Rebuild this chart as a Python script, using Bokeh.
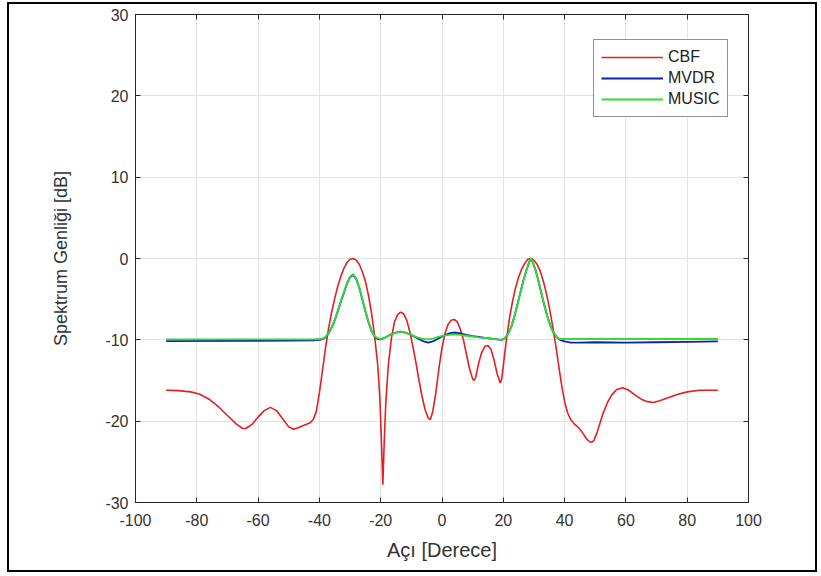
from bokeh.plotting import figure
from bokeh.models import LinearAxis, FixedTicker, Range1d, Legend, LegendItem
from bokeh.embed import file_html
from bokeh.resources import INLINE

# ---- data ----
cbf_x = [-90, -86, -82, -79, -76, -73, -70, -67, -65, -64, -62, -60, -58, -56, -54, -52, -50, -48.5,
         -47, -45, -43, -42, -41, -40, -39, -38, -37, -36, -35, -34, -33, -32, -31, -30, -29, -28,
         -27, -26, -25, -24, -23, -22, -21, -20.3, -19.8, -19.3, -18.8, -18.3, -17.5, -16.5, -15.5,
         -14.5, -13.5, -12.5, -11.5, -10.5, -9.5, -8.5, -7.5, -6.5, -5.5, -4.5, -3.8, -3, -2, -1,
         0, 1, 2, 3, 4, 5, 6, 7, 8, 9, 10, 10.5, 11, 12, 13, 14, 15, 16, 17, 18, 19, 19.5, 20, 21,
         22, 23, 24, 25, 26, 27, 28, 29, 30, 31, 32, 33, 34, 35, 36, 37, 38, 39, 40, 41, 42, 43,
         44, 45, 46, 47, 48, 48.8, 49.5, 50.5, 51.5, 52.5, 54, 55.5, 57, 59, 61, 63, 65, 67, 69,
         71, 74, 77, 80, 84, 90]
cbf_y = [-16.2, -16.25, -16.4, -16.7, -17.3, -18.2, -19.3, -20.4, -20.9, -20.9, -20.4, -19.5, -18.7,
         -18.3, -18.7, -19.7, -20.7, -21.0, -20.8, -20.5, -20.2, -19.8, -18.8, -16.5, -13.8, -11.0,
         -8.6, -6.6, -4.9, -3.4, -2.2, -1.2, -0.5, -0.1, 0.0, -0.2, -0.7, -1.6, -2.8, -4.5, -6.7,
         -9.5, -13.0, -17.0, -22.0, -27.8, -22.0, -17.5, -13.0, -9.8, -7.8, -6.9, -6.6, -6.8, -7.6,
         -9.0, -10.8, -12.8, -15.0, -17.0, -18.6, -19.6, -19.8, -18.8, -16.5, -13.5, -11.0, -9.2,
         -8.1, -7.6, -7.5, -7.8, -8.7, -10.0, -11.8, -13.6, -14.8, -15.0, -14.6, -12.8, -11.5,
         -10.8, -10.7, -11.2, -12.5, -14.2, -15.3, -14.8, -13.2, -10.0, -7.4, -5.3, -3.6, -2.3,
         -1.3, -0.6, -0.1, 0.0, -0.2, -0.7, -1.5, -2.7, -4.2, -6.0, -8.1, -10.4, -13.0, -15.5,
         -17.6, -19.0, -19.8, -20.3, -20.6, -21.0, -21.5, -22.1, -22.5, -22.6, -22.4, -21.5, -20.3,
         -19.1, -17.7, -16.7, -16.1, -15.9, -16.2, -16.8, -17.3, -17.6, -17.7, -17.5, -17.1, -16.7,
         -16.4, -16.2, -16.2]

mvdr_x = [-90, -70, -50, -42, -40, -39, -38, -37, -36, -35, -34, -33, -32, -31, -30, -29, -28, -27,
          -26, -25, -24, -23, -22, -21, -20, -19, -17, -15, -13.5, -12, -10, -8, -6, -4.5, -3, -1,
          1, 3, 4.5, 6, 8, 10, 12, 14, 16, 18, 19.5, 20.5, 21.5, 22.5, 23.5, 24.5, 25.5, 26.5,
          27.5, 28.5, 29, 29.5, 30.5, 31.5, 32.5, 33.5, 34.5, 35.5, 36.5, 37.5, 38.5, 40, 42, 45,
          50, 60, 70, 80, 90]
mvdr_y = [-10.15, -10.12, -10.1, -10.05, -10.0, -9.9, -9.7, -9.2, -8.5, -7.6, -6.5, -5.3, -4.2,
          -3.1, -2.3, -2.0, -2.5, -3.6, -5.0, -6.5, -7.8, -8.9, -9.6, -9.9, -9.95, -9.8, -9.4,
          -9.1, -9.0, -9.1, -9.4, -9.8, -10.2, -10.35, -10.2, -9.8, -9.4, -9.15, -9.1, -9.2, -9.4,
          -9.55, -9.65, -9.75, -9.85, -9.95, -10.0, -9.8, -9.3, -8.5, -7.3, -5.8, -4.3, -2.8, -1.5,
          -0.4, 0.0, -0.3, -1.4, -2.8, -4.4, -5.9, -7.3, -8.4, -9.2, -9.7, -10.0, -10.2, -10.35,
          -10.35, -10.3, -10.35, -10.3, -10.25, -10.2]

music_x = mvdr_x
music_y = [-9.95, -9.95, -9.95, -9.95, -9.9, -9.85, -9.65, -9.15, -8.45, -7.55, -6.45, -5.25, -4.15,
           -3.05, -2.25, -1.9, -2.45, -3.55, -4.95, -6.45, -7.75, -8.85, -9.55, -9.8, -9.9, -9.8,
           -9.4, -9.1, -9.0, -9.1, -9.4, -9.7, -9.9, -9.95, -9.85, -9.6, -9.45, -9.35, -9.35, -9.4,
           -9.5, -9.6, -9.7, -9.75, -9.85, -9.95, -10.0, -9.8, -9.3, -8.5, -7.3, -5.8, -4.3, -2.8,
           -1.5, -0.4, 0.0, -0.3, -1.4, -2.8, -4.4, -5.9, -7.3, -8.4, -9.2, -9.7, -9.9, -9.9, -9.9,
           -9.9, -9.9, -9.9, -9.9, -9.9, -9.9]

names = ["CBF", "MVDR", "MUSIC"]
colors = ["#e31f22", "#0f1fb0", "#30dd30"]

x_ticks = [-100, -80, -60, -40, -20, 0, 20, 40, 60, 80, 100]
x_tick_labels = ["-100", "-80", "-60", "-40", "-20", "0", "20", "40", "60", "80", "100"]
y_ticks = [-30, -20, -10, 0, 10, 20, 30]
y_tick_labels = ["-30", "-20", "-10", "0", "10", "20", "30"]

x_label = "Açı [Derece]"
y_label = "Spektrum Genliği [dB]"

FONT = "Liberation Sans"
DARK = "#262626"

p = figure(width=810, height=570, output_backend="svg", toolbar_location=None,
           x_range=Range1d(-100, 100), y_range=Range1d(-30, 30),
           min_border_left=126, min_border_right=71, min_border_top=10, min_border_bottom=72)
p.styles = {"border": "2px solid black", "margin-left": "7px", "margin-top": "2px"}

r1 = p.line(cbf_x, cbf_y, line_color=colors[0], line_width=1.6)
r2 = p.line(mvdr_x, mvdr_y, line_color=colors[1], line_width=1.8)
r3 = p.line(music_x, music_y, line_color=colors[2], line_width=1.8)

for ax in (p.xaxis[0], p.yaxis[0]):
    ax.axis_line_color = DARK
    ax.major_tick_line_color = DARK
    ax.major_tick_in = 5
    ax.major_tick_out = 0
    ax.minor_tick_line_color = None
    ax.major_label_text_font = FONT
    ax.major_label_text_font_size = "16px"
    ax.major_label_text_color = "#333333"
    ax.axis_label_text_font = FONT
    ax.axis_label_text_font_style = "normal"
    ax.axis_label_text_color = "#333333"

p.xaxis[0].axis_label_text_font_size = "20px"
p.yaxis[0].axis_label_text_font_size = "18px"
p.xaxis[0].ticker = FixedTicker(ticks=x_ticks)
p.yaxis[0].ticker = FixedTicker(ticks=y_ticks)
p.xaxis[0].major_label_overrides = dict(zip(x_ticks, x_tick_labels))
p.yaxis[0].major_label_overrides = dict(zip(y_ticks, y_tick_labels))
p.xaxis[0].axis_label = x_label
p.yaxis[0].axis_label = y_label
p.xaxis[0].major_label_standoff = 11
p.xaxis[0].axis_label_standoff = 10
p.yaxis[0].major_label_standoff = 7
p.yaxis[0].axis_label_standoff = 31

top = LinearAxis(ticker=FixedTicker(ticks=x_ticks), major_label_text_font_size="1px",
                 major_label_text_color=None, major_label_standoff=0,
                 major_tick_in=5, major_tick_out=0,
                 minor_tick_line_color=None, axis_line_color=DARK, major_tick_line_color=DARK)
right = LinearAxis(ticker=FixedTicker(ticks=y_ticks), major_label_text_font_size="1px",
                   major_label_text_color=None, major_label_standoff=0,
                   major_tick_in=5, major_tick_out=0,
                   minor_tick_line_color=None, axis_line_color=DARK, major_tick_line_color=DARK)
p.add_layout(top, "above")
p.add_layout(right, "right")

p.xgrid.ticker = FixedTicker(ticks=x_ticks)
p.ygrid.ticker = FixedTicker(ticks=y_ticks)
p.grid.grid_line_color = "#e3e3e3"
p.grid.grid_line_width = 1
p.outline_line_color = DARK

legend = Legend(items=[LegendItem(label=names[0], renderers=[r1]),
                       LegendItem(label=names[1], renderers=[r2]),
                       LegendItem(label=names[2], renderers=[r3])],
                location=(458, 385))
legend.label_text_font = FONT
legend.label_text_font_size = "16px"
legend.label_text_color = "#222222"
legend.glyph_width = 62
legend.glyph_height = 20
legend.label_height = 20
legend.spacing = 1
legend.padding = 7
legend.label_standoff = 5
legend.border_line_color = DARK
legend.border_line_width = 1
legend.background_fill_alpha = 1
legend.margin = 0
p.add_layout(legend, "center")

open("out.html", "w").write(file_html(p, INLINE))
